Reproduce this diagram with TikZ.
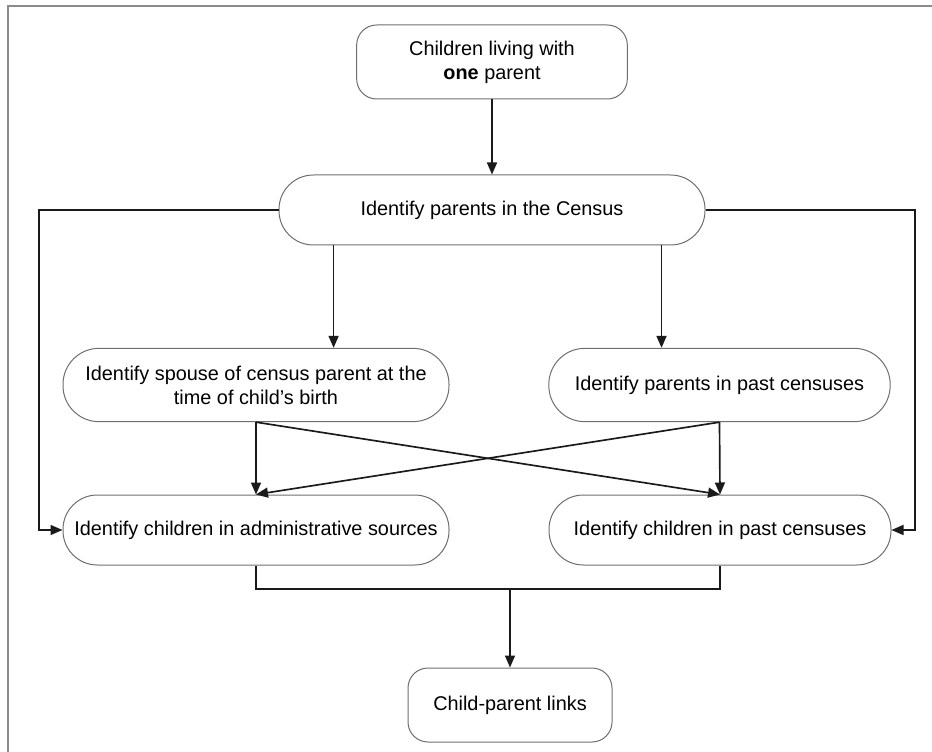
\documentclass[tikz,border=0pt]{standalone}
\usepackage{fontspec}
\setmainfont{Liberation Sans}
\usetikzlibrary{arrows.meta,calc}
\definecolor{linegray}{HTML}{6E6E6E}
\definecolor{framegray}{HTML}{8C8C8C}
\definecolor{ink}{HTML}{1A1A1A}

\begin{document}
\begin{tikzpicture}[
  x=0.75pt, y=-0.75pt,
  font=\fontsize{14.9}{18}\selectfont,
  roundbox/.style={draw=linegray, line width=.75pt, rounded corners=15pt, align=center, inner sep=0pt, minimum height=55.5pt},
  pill/.style={draw=linegray, line width=.75pt, rounded corners=#1/2-0.5pt, align=center, inner sep=0pt, minimum height=#1},
  link/.style={line width=1.25pt, draw=ink},
  flow/.style={link, -{Triangle[length=9pt,width=7.5pt]}},
  frame/.style={line width=1.5pt, draw=framegray}
]
\useasboundingbox (0,0) rectangle (932,752);
% outer frame, cut by the page edge
\draw[frame] (8,770) |- (950,6);

\node[roundbox, minimum width=203pt] (single) at (492,62) {Children living with\\\textbf{one} parent};
\node[pill=52.5pt, minimum width=319.5pt] (census) at (492,210) {Identify parents in the Census};
\node[pill=55pt, minimum width=289.5pt] (spouse) at (256,385) {Identify spouse of census parent at the\\time of child’s birth};
\node[pill=55pt, minimum width=256pt] (pastpar) at (719.5,385) {Identify parents in past censuses};
\node[pill=52.5pt, minimum width=289.5pt] (admin) at (256,530) {Identify children in administrative sources};
\node[pill=52.5pt, minimum width=256.5pt] (pastkid) at (720,530) {Identify children in past censuses};
\node[roundbox, minimum width=153pt] (links) at (510,705) {Child-parent links};

\coordinate (lft) at (39,210);
\coordinate (rgt) at (915,210);
\coordinate (merge) at (510,589);
\path ($(census.south west)!.129!(census.south east)$) coordinate (cl)
      ($(census.south west)!.897!(census.south east)$) coordinate (cr);

\draw[flow] (single.south) -- (census.north);
\draw[flow] (census.west) -- (lft) |- (admin.west);
\draw[flow] (census.east) -- (rgt) |- (pastkid.east);
\draw[flow] (cl) -- (cl |- spouse.north);
\draw[flow] (cr) -- (cr |- pastpar.north);

% crossing paths to the child sources
\draw[flow] (spouse.south) -- (admin.north);
\draw[flow] (spouse.south) -- (pastkid.north);
\draw[flow] (pastpar.south) -- (pastkid.north);
\draw[flow] (pastpar.south) -- (admin.north);

\draw[link] (admin.south) |- (merge) -| (pastkid.south);
\draw[flow] (merge) -- (links.north);
\end{tikzpicture}
\end{document}
